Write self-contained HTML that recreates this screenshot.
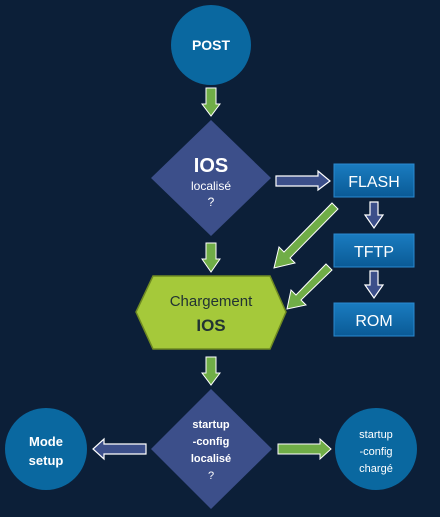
<!DOCTYPE html>
<html><head><style>
html,body{margin:0;padding:0;background:#0c1f38;}
svg{display:block}
text{font-family:"Liberation Sans",sans-serif;fill:#fff;text-anchor:middle;font-weight:normal}
.b{font-weight:bold}
</style></head><body>
<svg width="440" height="517" viewBox="0 0 440 517" xmlns="http://www.w3.org/2000/svg">
<rect width="440" height="517" fill="#0c1f38"/>
<defs>
<linearGradient id="bx" x1="0" y1="0" x2="0" y2="1"><stop offset="0" stop-color="#1a7cc0"/><stop offset="1" stop-color="#0a5a96"/></linearGradient>
</defs>
<circle cx="211" cy="45" r="40" fill="#0a68a0"/>
<text x="211" y="50" font-size="14" class="b">POST</text>
<g fill="#70ad47" stroke="#fff" stroke-width="1">
<polygon points="206,88 216,88 216,104 220,104 211,116 202,104 206,104"/>
<polygon points="206,243 216,243 216,259 220,259 211,272 202,259 206,259"/>
<polygon points="206,357 216,357 216,373 220,373 211,385 202,373 206,373"/>
<polygon points="278,444 320,444 320,439 331,449 320,459 320,454 278,454"/>
<polygon points="332,203 338,209 290,258 295,263 274,268 279,247 284,252"/>
<polygon points="326,264 332,270 301,300 306,305 287,309 291,290 296,295"/>
</g>
<polygon points="211,120 271,178 211,236 151,178" fill="#3c4f8a"/>
<text x="211" y="172" font-size="20" class="b">IOS</text>
<text x="211" y="190" font-size="12">localisé</text>
<text x="211" y="206" font-size="12">?</text>
<g fill="#3c4f8a" stroke="#fff" stroke-width="1.2">
<polygon points="276,176 318,176 318,171 330,181 318,190 318,186 276,186"/>
<polygon points="370,202 378,202 378,215 383,215 374,228 365,215 370,215"/>
<polygon points="370,271 378,271 378,285 383,285 374,298 365,285 370,285"/>
<polygon points="146,444 104,444 104,439 93,449 104,459 104,454 146,454"/>
</g>
<rect x="334" y="164" width="80" height="33" fill="url(#bx)" stroke="#2a8ad0" stroke-width="1"/>
<text x="374" y="187" font-size="16">FLASH</text>
<rect x="334" y="234" width="80" height="33" fill="url(#bx)" stroke="#2a8ad0" stroke-width="1"/>
<text x="374" y="257" font-size="16">TFTP</text>
<rect x="334" y="303" width="80" height="33" fill="url(#bx)" stroke="#2a8ad0" stroke-width="1"/>
<text x="374" y="326" font-size="16">ROM</text>
<polygon points="136,312 153,276 270,276 286,312 270,349 153,349" fill="#a5c93a" stroke="#6f8a22" stroke-width="1.5"/>
<text x="211" y="306" font-size="15" style="fill:#233">Chargement</text>
<text x="211" y="331" font-size="17" class="b" style="fill:#233">IOS</text>
<polygon points="211,389 272,449 211,509 151,449" fill="#3c4f8a"/>
<g font-size="11">
<text x="211" y="428" class="b">startup</text>
<text x="211" y="445" class="b">-config</text>
<text x="211" y="462" class="b">localisé</text>
<text x="211" y="479">?</text>
</g>
<circle cx="46" cy="449" r="41" fill="#0a68a0"/>
<text x="46" y="446" font-size="13" class="b">Mode</text>
<text x="46" y="465" font-size="13" class="b">setup</text>
<circle cx="376" cy="449" r="41" fill="#0a68a0"/>
<g font-size="11">
<text x="376" y="438">startup</text>
<text x="376" y="455">-config</text>
<text x="376" y="472">chargé</text>
</g>
</svg>
</body></html>
